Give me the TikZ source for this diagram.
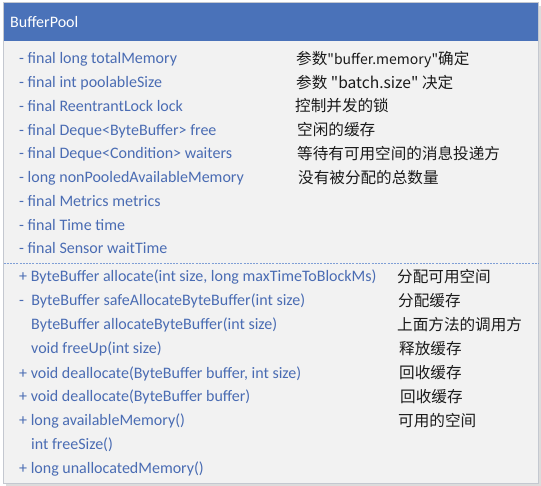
\documentclass[tikz,border=0pt]{standalone}
\usepackage{fontspec}
\setmainfont{Carlito}
\newfontfamily\cjk{Noto Sans CJK SC}
\definecolor{hdr}{HTML}{4A72B9}
\definecolor{bodybg}{HTML}{F2F2F2}
\definecolor{frame}{HTML}{C4C8D0}
\definecolor{lefttxt}{HTML}{4A6CB3}
\definecolor{righttxt}{HTML}{1A1A1A}
\definecolor{sep}{HTML}{7F9FD6}
\definecolor{shadow}{HTML}{DCDCDC}
\begin{document}
\begin{tikzpicture}[x=1pt,y=-1pt,
  lt/.style={anchor=base west,inner sep=0pt,text=lefttxt,font=\fontsize{16}{18}\selectfont},
  rt/.style={anchor=base west,inner sep=0pt,text=righttxt,font=\cjk\fontsize{15.6}{18}\selectfont},
  ht/.style={anchor=base west,inner sep=0pt,text=white,font=\fontsize{16}{18}\selectfont}]
\useasboundingbox[fill=white] (0,0) rectangle (541,486);
% shadow
\fill[shadow] (6,6) rectangle (541,486);
% body
\node[draw=frame,fill=bodybg,line width=0.8pt,minimum width=535pt,minimum height=481pt,anchor=north west,inner sep=0pt] (box) at (3,2) {};
\fill[hdr] (box.north west) rectangle (538.6,41);
\draw[frame,line width=0.8pt] (box.north west) rectangle (box.south east);
\node[ht] (title) at (10,27.5) {BufferPool};
% separator
\coordinate (sl) at (3.5,263);
\coordinate (sr) at (538,263);
\draw[sep,line width=0.6pt,dash pattern=on 2pt off 1.2pt] (sl) -- (sr);
% fields
\node[lt] (f1) at (19,64) {- final long totalMemory};
\node[lt] (f2) at (19,88) {- final int poolableSize};
\node[lt] (f3) at (19,111.5) {- final ReentrantLock lock};
\node[lt] (f4) at (19,135.5) {- final Deque<ByteBuffer> free};
\node[lt] (f5) at (19,159) {- final Deque<Condition> waiters};
\node[lt] (f6) at (19,183) {- long nonPooledAvailableMemory};
\node[lt] (f7) at (19,206.5) {- final Metrics metrics};
\node[lt] (f8) at (19,230.5) {- final Time time};
\node[lt] (f9) at (19,254) {- final Sensor waitTime};
\node[rt] (c1) at (296,64.5) {参数{\fontsize{14}{18}\selectfont"buffer.memory"}确定};
\node[rt] (c2) at (296,88.5) {参数 "batch.size" 决定};
\node[rt] (c3) at (295,112) {控制并发的锁};
\node[rt] (c4) at (297,136) {空闲的缓存};
\node[rt] (c5) at (297,159.5) {等待有可用空间的消息投递方};
\node[rt] (c6) at (298,183.5) {没有被分配的总数量};
% methods
\node[lt] (m1) at (19,282) {+ ByteBuffer allocate(int size, long maxTimeToBlockMs)};
\node[lt] (m2) at (19,306) {-\ \ ByteBuffer safeAllocateByteBuffer(int size)};
\node[lt] (m3) at (31,330) {ByteBuffer allocateByteBuffer(int size)};
\node[lt] (m4) at (31,354) {void freeUp(int size)};
\node[lt] (m5) at (19,378) {+ void deallocate(ByteBuffer buffer, int size)};
\node[lt] (m6) at (19,402) {+ void deallocate(ByteBuffer buffer)};
\node[lt] (m7) at (19,425.5) {+ long availableMemory()};
\node[lt] (m8) at (31,449) {int freeSize()};
\node[lt] (m9) at (19,473) {+ long unallocatedMemory()};
\node[rt] (d1) at (397,282.5) {分配可用空间};
\node[rt] (d2) at (398,306.5) {分配缓存};
\node[rt] (d3) at (397,330.5) {上面方法的调用方};
\node[rt] (d4) at (399,354.5) {释放缓存};
\node[rt] (d5) at (399,378.5) {回收缓存};
\node[rt] (d6) at (400,402.5) {回收缓存};
\node[rt] (d7) at (398,426) {可用的空间};
\end{tikzpicture}
\end{document}
